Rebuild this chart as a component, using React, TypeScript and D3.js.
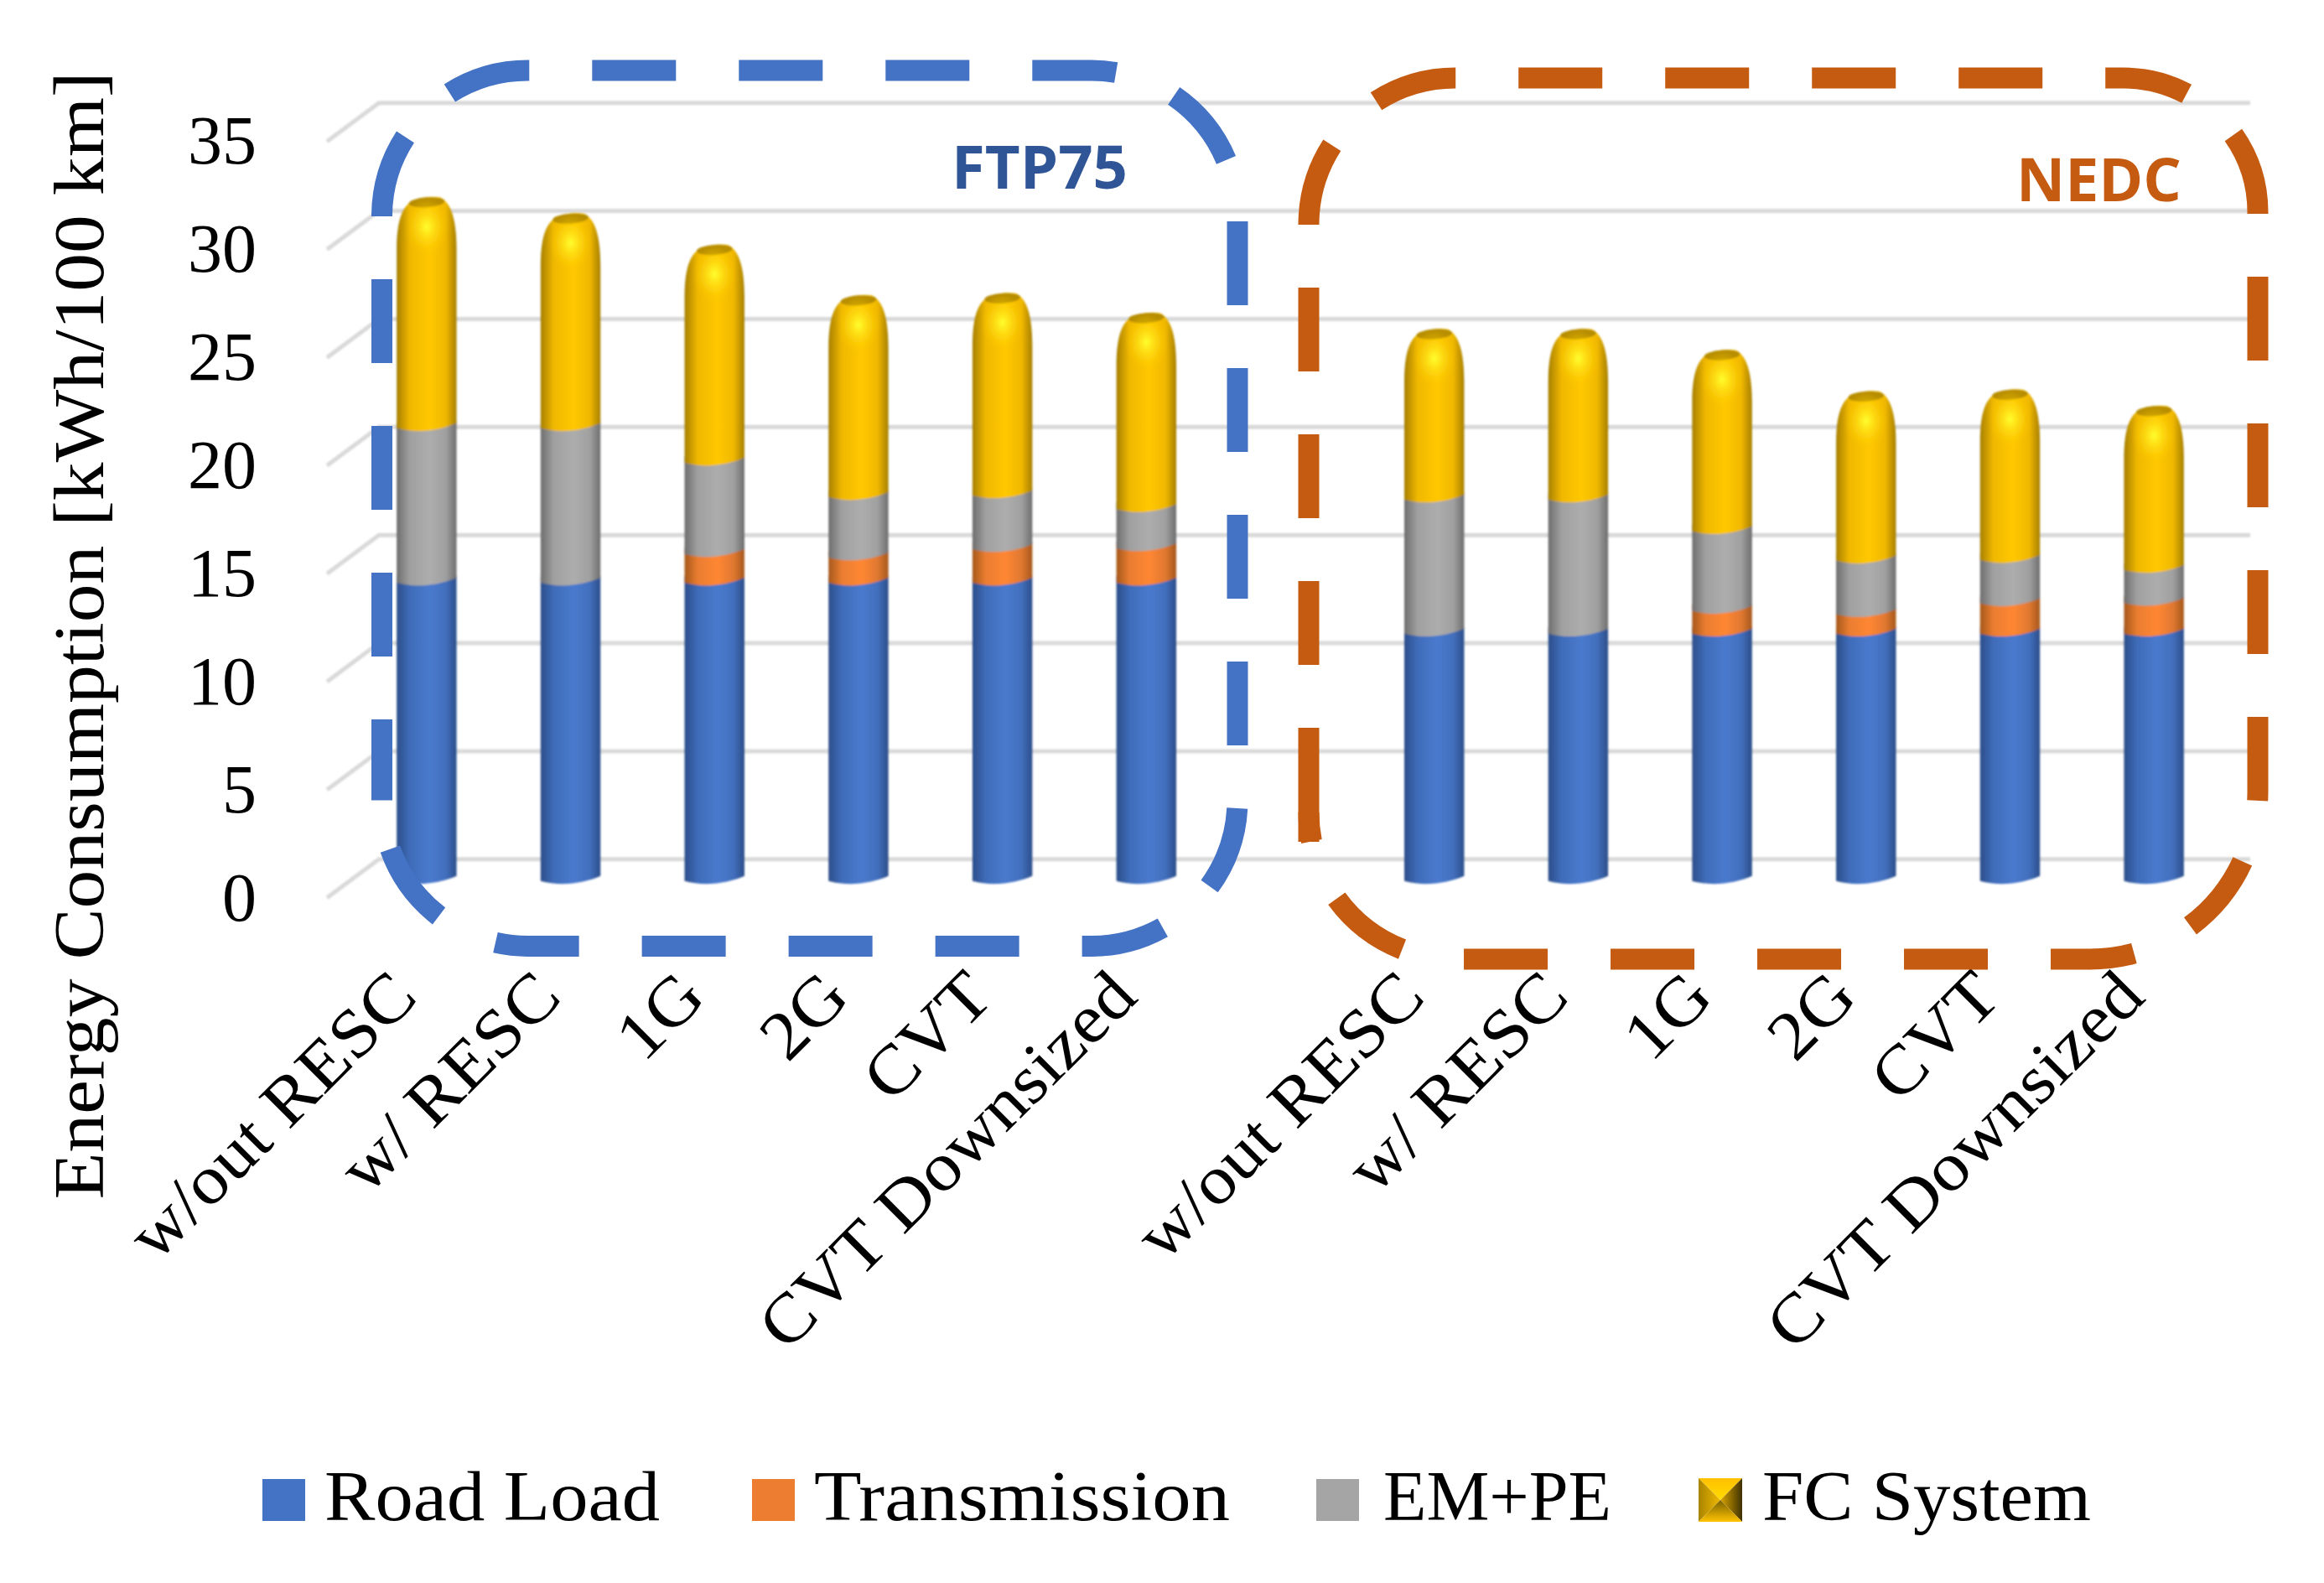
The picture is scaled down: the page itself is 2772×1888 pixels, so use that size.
import React, { useEffect, useRef } from 'react';
import * as d3 from 'd3';

// Chart data, kWh/100 km, FTP75 then NEDC
const categories = ['w/out RESC', 'w/ RESC', '1G', '2G', 'CVT', 'CVT Downsized'];
const cycles = ['FTP75', 'NEDC'];
const seriesNames = ['Road Load', 'Transmission', 'EM+PE', 'FC System'];
const roadLoad = [13.8, 13.8, 13.8, 13.8, 13.8, 13.8, 11.45, 11.45, 11.45, 11.45, 11.45, 11.45];
const transmission = [0, 0, 1.33, 1.17, 1.56, 1.6, 0, 0, 1.05, 0.9, 1.4, 1.42];
const emPe = [7.15, 7.15, 4.22, 2.79, 2.48, 1.8, 6.2, 6.2, 3.68, 2.47, 2.0, 1.52];
const fcSystem = [10.65, 9.9, 10.05, 9.3, 9.32, 9.05, 7.85, 7.85, 8.35, 7.8, 7.85, 7.55];
const yTicks = [0, 5, 10, 15, 20, 25, 30, 35];

const WIDTH = 2772;
const HEIGHT = 1888;
const SERIF = '"Liberation Serif", serif';

// 3D offsets of the Excel-style chart
const FLOOR_DX = -62;
const FLOOR_DY = 46;
const BAR_DX = -29;
const BAR_DY = 30;

const rows = d3.range(12).map((i) => ({
    i,
    'Road Load': roadLoad[i],
    Transmission: transmission[i],
    'EM+PE': emPe[i],
    'FC System': fcSystem[i],
}));

const seriesStops: Record<string, string[]> = {
    'Road Load': ['#2c4e8a', '#3f6cb9', '#4a7ace', '#426fbd', '#2c4e8a'],
    Transmission: ['#a5581c', '#ea7d30', '#ff8733', '#e07830', '#a5581c'],
    'EM+PE': ['#6e6e6e', '#a0a0a0', '#adadad', '#a0a0a0', '#6e6e6e'],
    'FC System': ['#a67f00', '#f0b800', '#ffc800', '#f0b800', '#a67f00'],
};
const legendColors = ['#4472c4', '#ed7d31', '#a5a5a5'];

// dashed box, clockwise from the top of the left side; radii are tl, tr, br, bl
const roundedBox = (l: number, t: number, r: number, b: number, rad: number[]) => {
    const p = d3.path();
    p.moveTo(l, t + rad[0]);
    p.arcTo(l, t, l + rad[0], t, rad[0]);
    p.lineTo(r - rad[1], t);
    p.arcTo(r, t, r, t + rad[1], rad[1]);
    p.lineTo(r, b - rad[2]);
    p.arcTo(r, b, r - rad[2], b, rad[2]);
    p.lineTo(l + rad[3], b);
    p.arcTo(l, b, l, b - rad[3], rad[3]);
    return p.toString();
};

const App: React.FC = () => {
    const svgRef = useRef<SVGSVGElement | null>(null);

    useEffect(() => {
        if (!svgRef.current) return;
        const svg = d3.select(svgRef.current);
        svg.selectAll('*').remove();

        const slot = (i: number) => (i < 6 ? i : i + 1); // one empty slot between the cycles
        const x = d3
            .scaleBand<number>()
            .domain(d3.range(13))
            .range([452, 2684])
            .paddingInner(0.584)
            .paddingOuter(0.292);
        const y = d3.scaleLinear().domain([0, 35]).range([1024.8, 122.7]);

        const defs = svg.append('defs');
        defs.append('filter')
            .attr('id', 'soft')
            .append('feGaussianBlur')
            .attr('stdDeviation', 1);
        seriesNames.forEach((name, k) => {
            const grad = defs
                .append('linearGradient')
                .attr('id', `cyl${k}`)
                .attr('x1', 0)
                .attr('x2', 1)
                .attr('y1', 0)
                .attr('y2', 0);
            [0, 0.22, 0.55, 0.82, 1].forEach((o, j) => {
                grad.append('stop')
                    .attr('offset', o)
                    .attr('stop-color', seriesStops[name][j]);
            });
        });
        const glow = defs.append('radialGradient').attr('id', 'glow');
        glow.append('stop').attr('offset', 0).attr('stop-color', '#ffff30');
        glow.append('stop').attr('offset', 1).attr('stop-color', '#ffc800').attr('stop-opacity', 0);

        // bevel faces of the FC System legend key
        const bevel = (id: string, x1: number, y1: number, x2: number, y2: number, c1: string, c2: string) => {
            const g = defs
                .append('linearGradient')
                .attr('id', id)
                .attr('x1', x1)
                .attr('y1', y1)
                .attr('x2', x2)
                .attr('y2', y2);
            g.append('stop').attr('offset', 0).attr('stop-color', c1);
            g.append('stop').attr('offset', 1).attr('stop-color', c2);
        };
        bevel('bevTop', 0, 0, 0, 1, '#ffc000', '#ffdc00');
        bevel('bevLeft', 0, 0, 1, 0, '#a88400', '#f0b800');
        bevel('bevRight', 0, 0, 1, 0, '#d9a500', '#3f3000');
        bevel('bevBottom', 0, 0, 0, 1, '#7a6000', '#ffc400');

        // gridlines on the wall and the floor
        const grid = svg.append('g').attr('filter', 'url(#soft)');
        yTicks.forEach((t) => {
            const line = d3.line();
            grid.append('path')
                .attr('d', line([
                    [452 + FLOOR_DX, y(t) + FLOOR_DY],
                    [452, y(t)],
                    [2684, y(t)],
                ]))
                .attr('fill', 'none')
                .attr('stroke', '#d9d9d9')
                .attr('stroke-width', 5);
        });

        // y axis labels
        const yAxis = svg
            .append('g')
            .attr('transform', `translate(${452 + FLOOR_DX - 16},${FLOOR_DY})`)
            .call(d3.axisLeft(y).tickValues(yTicks).tickSize(0).tickPadding(68));
        yAxis.select('.domain').remove();
        yAxis.selectAll('text')
            .attr('fill', '#000')
            .style('font-family', SERIF)
            .style('font-size', '82px');

        // stacked cylinders
        const stacked = d3.stack<any>().keys(seriesNames)(rows);
        const bars = svg.append('g').attr('filter', 'url(#soft)');
        stacked.forEach((layer, k) => {
            layer.forEach((d, i) => {
                const left = (x(slot(i)) as number) + BAR_DX;
                const w = x.bandwidth();
                const right = left + w;
                const yb = y(d[0]) + BAR_DY;
                const yt = y(d[1]) + BAR_DY;
                if (yb - yt < 0.5) return;
                const p = d3.path();
                if (k === 3) {
                    // rounded cap of the top segment
                    const capTop = yt - 5;
                    p.moveTo(left, capTop + 62);
                    p.bezierCurveTo(left, capTop + 25, left + 8, capTop + 6, left + 24, capTop + 3);
                    p.quadraticCurveTo(left + w / 2, capTop - 2, right - 20, capTop);
                    p.bezierCurveTo(right - 6, capTop + 6, right, capTop + 28, right, capTop + 62);
                } else {
                    p.moveTo(left, yt - 12);
                    p.lineTo(right, yt - 12);
                }
                p.lineTo(right, yb - 10);
                p.bezierCurveTo(right - w * 0.25, yb - 2, left + w * 0.35, yb + 3, left, yb - 4);
                p.closePath();
                bars.append('path').attr('d', p.toString()).attr('fill', `url(#cyl${k})`);
                if (k === 3) {
                    const cx = left + w / 2;
                    bars.append('ellipse')
                        .attr('cx', cx)
                        .attr('cy', yt + 1)
                        .attr('rx', w * 0.3)
                        .attr('ry', 6)
                        .attr('transform', `rotate(-4 ${cx} ${yt + 1})`)
                        .attr('fill', '#b88e00');
                    bars.append('ellipse')
                        .attr('cx', cx)
                        .attr('cy', yt + 30)
                        .attr('rx', 26)
                        .attr('ry', 34)
                        .attr('fill', 'url(#glow)');
                }
            });
        });

        // category labels
        const labels = svg.append('g');
        rows.forEach((d) => {
            const cx = (x(slot(d.i)) as number) + BAR_DX + x.bandwidth() / 2;
            labels.append('text')
                .attr('transform', `translate(${cx - 8},1192) rotate(-45) scale(1.08,1)`)
                .attr('text-anchor', 'end')
                .attr('font-family', SERIF)
                .attr('font-size', 82)
                .text(categories[d.i % 6]);
        });

        // y title
        svg.append('text')
            .attr('transform', `translate(123,758) rotate(-90)`)
            .attr('text-anchor', 'middle')
            .attr('font-family', SERIF)
            .attr('font-size', 84)
            .attr('textLength', 1345)
            .attr('lengthAdjust', 'spacingAndGlyphs')
            .text('Energy Consumption [kWh/100 km]');

        // cycle boxes, the left side carries its own dash phase
        const boxes = [
            { l: 455.5, t: 84, r: 1476, b: 1128.5, rad: [174, 174, 174, 174], color: '#4472c4', leftDash: '100 75', tail: 0 },
            { l: 1561, t: 93, r: 2693, b: 1144, rad: [175, 160, 200, 175], color: '#c55a11', leftDash: '100 75 100 75 100 75 100 75 170 500', tail: 35 },
        ];
        boxes.forEach((b) => {
            svg.append('path')
                .attr('d', roundedBox(b.l, b.t, b.r, b.b, b.rad))
                .attr('fill', 'none')
                .attr('stroke', b.color)
                .attr('stroke-width', 25)
                .attr('stroke-dasharray', '100 75');
            svg.append('path')
                .attr('d', d3.line()([[b.l, b.t + b.rad[0]], [b.l, b.b - b.rad[3] + b.tail]]))
                .attr('fill', 'none')
                .attr('stroke', b.color)
                .attr('stroke-width', 25)
                .attr('stroke-dasharray', b.leftDash)
                .attr('stroke-dashoffset', 100);
        });
        svg.append('text')
            .attr('x', 1135)
            .attr('y', 225)
            .attr('font-family', '"Open Sans", sans-serif')
            .attr('font-weight', 700)
            .attr('font-size', 72)
            .attr('fill', '#2f5597')
            .attr('textLength', 210)
            .attr('lengthAdjust', 'spacingAndGlyphs')
            .text(cycles[0]);
        svg.append('text')
            .attr('x', 2405)
            .attr('y', 240)
            .attr('font-family', '"Open Sans", sans-serif')
            .attr('font-weight', 700)
            .attr('font-size', 72)
            .attr('fill', '#c55a11')
            .attr('textLength', 197)
            .attr('lengthAdjust', 'spacingAndGlyphs')
            .text(cycles[1]);

        // legend
        const legendX = [313, 897, 1570, 2026];
        const legendTextX = [387, 971, 1650, 2102];
        const legendTextW = [400, 496, 272, 392];
        seriesNames.forEach((name, k) => {
            if (k < 3) {
                svg.append('rect')
                    .attr('x', legendX[k])
                    .attr('y', 1764)
                    .attr('width', 51)
                    .attr('height', 50)
                    .attr('fill', legendColors[k]);
            } else {
                const sx = legendX[k];
                const faces: [string, number[][]][] = [
                    ['bevTop', [[0, 0], [52, 0], [26, 26]]],
                    ['bevLeft', [[0, 0], [26, 26], [0, 52]]],
                    ['bevRight', [[52, 0], [52, 52], [26, 26]]],
                    ['bevBottom', [[0, 52], [26, 26], [52, 52]]],
                ];
                faces.forEach(([fill, pts]) => {
                    svg.append('polygon')
                        .attr('points', pts.map((q) => `${sx + q[0]},${1763 + q[1]}`).join(' '))
                        .attr('fill', `url(#${fill})`);
                });
            }
            svg.append('text')
                .attr('x', legendTextX[k])
                .attr('y', 1813)
                .attr('font-family', SERIF)
                .attr('font-size', 84)
                .attr('textLength', legendTextW[k])
                .attr('lengthAdjust', 'spacingAndGlyphs')
                .text(name);
        });
    }, []);

    return (
        <svg
            ref={svgRef}
            width={WIDTH}
            height={HEIGHT}
            style={{ position: 'absolute', left: 0, top: 0, background: '#fff' }}
        />
    );
};

export default App;
